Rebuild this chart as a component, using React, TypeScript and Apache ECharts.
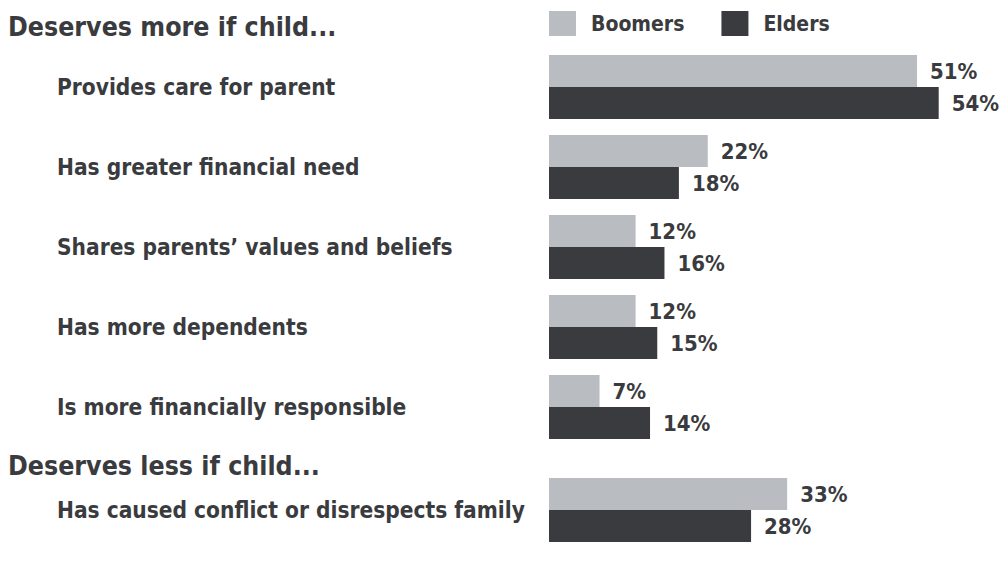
import React, { useEffect, useRef } from "react";
import * as echarts from "echarts";

const moreHeader = "Deserves more if child...";
const lessHeader = "Deserves less if child...";
const moreCategories = [
  "Provides care for parent",
  "Has greater financial need",
  "Shares parents’ values and beliefs",
  "Has more dependents",
  "Is more financially responsible",
];
const lessCategories = ["Has caused conflict or disrespects family"];
const seriesNames = ["Boomers", "Elders"];
const boomersMore = [51, 22, 12, 12, 7];
const eldersMore = [54, 18, 16, 15, 14];
const boomersLess = [33];
const eldersLess = [28];

const FONT = "'DejaVu Sans Condensed', 'Liberation Sans Narrow', sans-serif";
const TEXT = "#3a3b3e";
const LIGHT = "#b9bcc0";
const DARK = "#3a3b3e";

export default function App() {
  const ref = useRef<HTMLDivElement>(null);
  useEffect(() => {
    if (!ref.current) return;
    const chart = echarts.init(ref.current, null, { renderer: "svg" });
    const label = {
      show: true,
      position: "right",
      distance: 13,
      formatter: "{c}%",
      color: TEXT,
      fontFamily: FONT,
      fontWeight: "bold",
      fontSize: 22,
    };
    const xAxisBase = {
      type: "value",
      min: 0,
      max: 60,
      show: false,
    };
    const yLabel = {
      align: "left",
      margin: 492,
      color: TEXT,
      fontFamily: FONT,
      fontWeight: "bold",
      fontSize: 22.5,
    };
    const mkSeries = (name: string, data: number[], idx: number, color: string) => ({
      name,
      type: "bar",
      xAxisIndex: idx,
      yAxisIndex: idx,
      data,
      barWidth: 32,
      barGap: "0%",
      itemStyle: { color },
      label,
    });
    chart.setOption({
      animation: false,
      backgroundColor: "#ffffff",
      legend: {
        data: seriesNames,
        left: 544,
        top: 6,
        itemWidth: 27,
        itemHeight: 25,
        itemGap: 37,
        icon: "rect",
        textStyle: {
          color: TEXT,
          fontFamily: FONT,
          fontWeight: "bold",
          fontSize: 21,
          padding: [0, 0, 0, 10],
        },
      },
      graphic: [
        {
          type: "text",
          left: 8,
          top: 13,
          style: { text: moreHeader, fill: TEXT, font: `bold 26.5px ${FONT}` },
        },
        {
          type: "text",
          left: 8,
          top: 452,
          style: { text: lessHeader, fill: TEXT, font: `bold 26.5px ${FONT}` },
        },
      ],
      grid: [
        { left: 549, width: 433, top: 47, height: 400 },
        { left: 549, width: 433, top: 470, height: 80 },
      ],
      xAxis: [
        { ...xAxisBase, gridIndex: 0 },
        { ...xAxisBase, gridIndex: 1 },
      ],
      yAxis: [
        {
          type: "category",
          gridIndex: 0,
          data: moreCategories,
          inverse: true,
          axisLine: { show: false },
          axisTick: { show: false },
          axisLabel: yLabel,
        },
        {
          type: "category",
          gridIndex: 1,
          data: lessCategories,
          inverse: true,
          axisLine: { show: false },
          axisTick: { show: false },
          axisLabel: yLabel,
        },
      ],
      series: [
        mkSeries(seriesNames[0], boomersMore, 0, LIGHT),
        mkSeries(seriesNames[1], eldersMore, 0, DARK),
        mkSeries(seriesNames[0], boomersLess, 1, LIGHT),
        mkSeries(seriesNames[1], eldersLess, 1, DARK),
      ],
    });
    return () => chart.dispose();
  }, []);
  return <div ref={ref} style={{ width: 1008, height: 566, position: "absolute", left: 0, top: 0 }} />;
}
